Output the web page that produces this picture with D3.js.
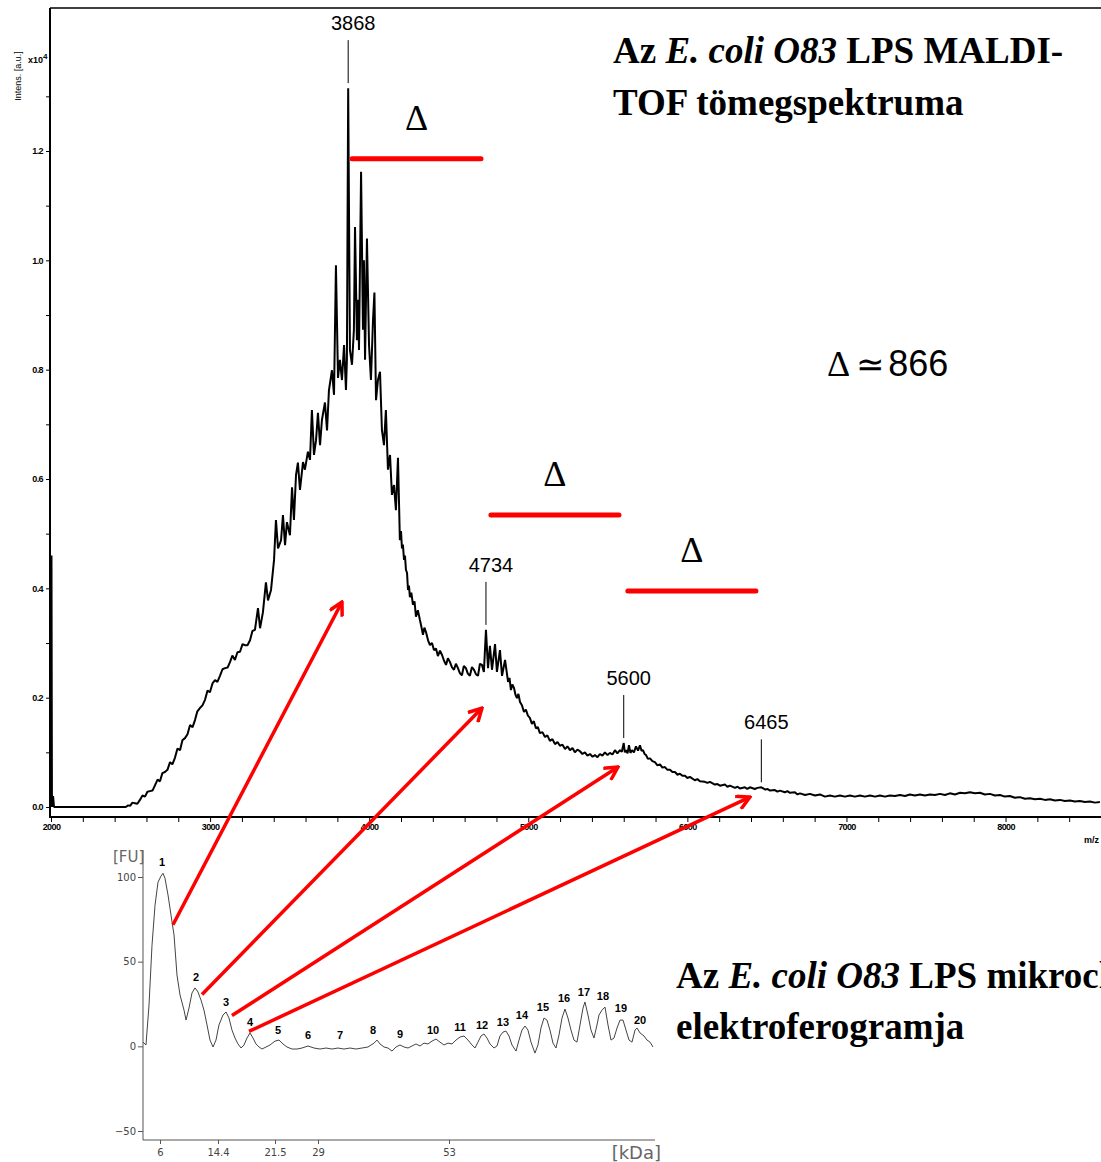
<!DOCTYPE html>
<html>
<head>
<meta charset="utf-8">
<script src="https://cdn.jsdelivr.net/npm/d3@7"></script>
<style>
  body { margin: 0; background: #fff; }
  svg text { font-family: "Liberation Sans", Arial, sans-serif; }
</style>
</head>
<body>
<div id="chart"></div>
<script>
// MALDI-TOF spectrum: m/z and intensity (x10^4 a.u.)
var specMz = [2000, 2003, 2006, 2013, 2019, 2470,
  2485, 2497, 2512, 2528, 2543, 2559, 2575, 2591, 2606, 2622, 2638, 2654, 2670, 2685,
  2700, 2716, 2732, 2748, 2763, 2779, 2795, 2811, 2826, 2842, 2858, 2874, 2890, 2905,
  2920, 2936, 2952, 2968, 2984, 2999, 3015, 3031, 3046, 3062, 3078, 3094, 3110, 3125,
  3140, 3156, 3172, 3188, 3204, 3219, 3235, 3251, 3266, 3282, 3301, 3314,
  3332, 3351, 3364, 3383, 3402, 3414, 3427, 3446, 3458, 3471, 3483, 3502, 3515, 3527,
  3540, 3552, 3565, 3584, 3596, 3615, 3628, 3640, 3653, 3666, 3678, 3691, 3703, 3722,
  3735, 3747, 3766, 3779, 3791, 3804, 3816, 3829, 3842, 3854, 3860, 3868, 3879, 3892,
  3904, 3911, 3923, 3930, 3936, 3949, 3961, 3967, 3974, 3986, 3999, 4011, 4024, 4033,
  4043, 4055, 4068, 4080, 4093, 4105, 4118, 4131, 4143, 4156, 4168, 4181, 4193, 4200,
  4206, 4212, 4219, 4225, 4231, 4238, 4244, 4250, 4256, 4265, 4275, 4285, 4294, 4306,
  4319, 4328, 4338, 4347, 4357, 4370, 4382, 4395, 4407, 4420, 4432, 4445, 4458, 4470,
  4483, 4495, 4508, 4520, 4533, 4545, 4558, 4570, 4583, 4595, 4608, 4620, 4633, 4646,
  4659, 4671, 4684, 4696, 4709, 4721, 4734, 4747, 4759, 4772,
  4791, 4803, 4822, 4835, 4854, 4873, 4882, 4891, 4900, 4910, 4920, 4929, 4938, 4948,
  4960, 4973, 4985, 4998, 5010, 5023, 5035, 5048, 5060, 5073, 5089, 5105, 5120, 5136,
  5152, 5168, 5184, 5199, 5215, 5231, 5246, 5262, 5278, 5293, 5309, 5325, 5340, 5356,
  5372, 5388, 5404, 5419, 5435, 5450, 5466, 5482, 5498, 5513, 5529, 5545, 5560, 5576,
  5588, 5600, 5607, 5614, 5624, 5633, 5642, 5652, 5664, 5677, 5690, 5702, 5712, 5721,
  5731, 5740, 5752, 5765, 5780, 5796, 5812, 5828, 5843, 5859, 5875, 5891, 5906, 5922,
  5938, 5953, 5969, 5985, 6000, 6016, 6047, 6063, 6079, 6110, 6126, 6142, 6173, 6189,
  6205, 6236, 6252, 6268, 6299, 6315, 6330, 6362, 6377, 6393, 6424, 6440, 6465, 6490,
  6505, 6519, 6550, 6566, 6582, 6613, 6629, 6645, 6676, 6692, 6708, 6740, 6770, 6802,
  6833, 6865, 6896, 6927, 6959, 6990, 7022, 7053, 7085, 7116, 7148, 7180, 7210, 7242,
  7273, 7305, 7336, 7368, 7399, 7430, 7462, 7493, 7525, 7556, 7588, 7619, 7650, 7682,
  7714, 7745, 7776, 7808, 7839, 7870, 7902, 7933, 7965, 7996, 8027, 8059, 8090, 8122,
  8153, 8185, 8216, 8248, 8279, 8310, 8342, 8373, 8405, 8436, 8467, 8499, 8530, 8562,
  8593];
var specInt = [0, 0.46, 0, 0.02, 0, 0,
  0.003, 0.002, 0.008, 0.007, 0.006, 0.013, 0.021, 0.019, 0.028, 0.029, 0.030, 0.040, 0.050, 0.047,
  0.062, 0.064, 0.068, 0.082, 0.078, 0.090, 0.107, 0.104, 0.122, 0.126, 0.133, 0.150, 0.146, 0.159,
  0.175, 0.181, 0.186, 0.196, 0.213, 0.210, 0.226, 0.232, 0.229, 0.240, 0.252, 0.254, 0.255, 0.265,
  0.277, 0.269, 0.283, 0.284, 0.298, 0.296, 0.296, 0.305, 0.322, 0.324, 0.364, 0.327,
  0.356, 0.411, 0.378, 0.397, 0.452, 0.525, 0.473, 0.488, 0.534, 0.479, 0.521, 0.497, 0.585, 0.525,
  0.607, 0.630, 0.580, 0.631, 0.617, 0.650, 0.635, 0.726, 0.644, 0.671, 0.721, 0.662, 0.708, 0.740,
  0.689, 0.762, 0.799, 0.754, 0.991, 0.785, 0.818, 0.781, 0.845, 0.763, 0.818, 1.315, 0.836, 0.809,
  0.873, 1.061, 0.854, 0.928, 0.836, 1.162, 0.873, 1.000, 0.818, 1.040, 0.845, 0.781, 0.890, 0.941,
  0.744, 0.781, 0.796, 0.690, 0.662, 0.726, 0.617, 0.644, 0.571, 0.589, 0.543, 0.639, 0.488, 0.505,
  0.473, 0.480, 0.452, 0.460, 0.434, 0.428, 0.397, 0.405, 0.384, 0.392, 0.370, 0.376, 0.348, 0.360,
  0.342, 0.330, 0.315, 0.328, 0.320, 0.305, 0.296, 0.300, 0.287, 0.290, 0.276, 0.286, 0.278, 0.268,
  0.260, 0.272, 0.265, 0.256, 0.251, 0.262, 0.254, 0.245, 0.241, 0.258, 0.254, 0.244, 0.240, 0.256,
  0.251, 0.243, 0.240, 0.262, 0.260, 0.247, 0.324, 0.254, 0.295, 0.251,
  0.298, 0.247, 0.287, 0.240, 0.269, 0.229, 0.236, 0.214, 0.224, 0.218, 0.205, 0.199, 0.207, 0.192,
  0.186, 0.174, 0.178, 0.167, 0.163, 0.152, 0.157, 0.144, 0.146, 0.135, 0.137, 0.128, 0.131, 0.121,
  0.124, 0.115, 0.119, 0.112, 0.114, 0.106, 0.111, 0.104, 0.108, 0.100, 0.105, 0.102, 0.097, 0.100,
  0.094, 0.097, 0.092, 0.095, 0.091, 0.097, 0.094, 0.100, 0.095, 0.099, 0.096, 0.104, 0.098, 0.104,
  0.101, 0.117, 0.100, 0.104, 0.098, 0.113, 0.099, 0.104, 0.100, 0.111, 0.103, 0.113, 0.103, 0.104,
  0.097, 0.095, 0.088, 0.089, 0.084, 0.082, 0.076, 0.078, 0.072, 0.073, 0.068, 0.068, 0.064, 0.064,
  0.059, 0.061, 0.057, 0.057, 0.053, 0.055, 0.049, 0.051, 0.047, 0.046, 0.044, 0.046, 0.041, 0.042,
  0.039, 0.041, 0.037, 0.039, 0.035, 0.037, 0.034, 0.036, 0.033, 0.036, 0.033, 0.035, 0.036, 0.032,
  0.033, 0.030, 0.031, 0.028, 0.030, 0.027, 0.029, 0.026, 0.027, 0.023, 0.025, 0.022, 0.024, 0.021,
  0.023, 0.019, 0.021, 0.019, 0.021, 0.019, 0.021, 0.019, 0.021, 0.019, 0.021, 0.019, 0.021, 0.019,
  0.021, 0.020, 0.022, 0.020, 0.023, 0.021, 0.023, 0.021, 0.023, 0.022, 0.024, 0.022, 0.025, 0.023,
  0.026, 0.025, 0.027, 0.025, 0.026, 0.023, 0.024, 0.021, 0.022, 0.019, 0.020, 0.017, 0.018, 0.015,
  0.016, 0.014, 0.015, 0.013, 0.014, 0.012, 0.013, 0.011, 0.012, 0.010, 0.011, 0.009, 0.010, 0.008,
  0.009];

var peakLabels = [3868, 4734, 5600, 6465];

// delta bars (m/z from, m/z to, intensity level)
var deltaFrom = [3892, 4765, 5626];
var deltaTo = [4703, 5570, 6431];
var deltaLevel = [1.186, 0.534, 0.395];

var xTicksMz = d3.range(2000, 8601, 200);
var yTicksInt = d3.range(0, 1.31, 0.1);

// microchip electropherogram: kDa and fluorescence units
var ladderKDa = [6, 14.4, 21.5, 29, 53];
var fuTicks = [100, 50, 0, -50];
var elKDa = [3.54, 3.97, 4.41, 4.84, 5.28, 5.71, 6.14, 6.43, 6.72, 7.16, 7.59, 8.03, 8.46, 8.90,
  9.48, 9.77, 10.20, 10.63, 11.07, 11.50, 11.94, 12.37, 12.81, 13.24, 13.68, 14.11, 14.52, 15.02,
  15.40, 15.77, 16.14, 16.52, 16.89, 17.27, 17.64, 18.01, 18.39, 18.76, 19.13, 19.51, 19.88, 20.38,
  20.88, 21.50, 22.20, 22.90, 23.59, 24.47, 25.34, 26.21, 27.26, 28.30, 29.37, 30.47, 31.57, 32.66,
  33.76, 34.86, 35.96, 37.06, 38.16, 39.26, 39.81, 40.36, 41.09, 41.83, 42.56, 43.29, 44.02, 44.76,
  45.49, 46.22, 46.96, 47.69, 48.42, 49.15, 49.89, 50.62, 51.35, 52.08, 52.82, 53.55, 54.28, 55.02,
  55.75, 56.48, 57.22, 57.76, 58.31, 58.86, 59.41, 59.96, 60.51, 61.24, 61.79, 62.34, 62.89, 63.44,
  63.99, 64.54, 65.28, 65.83, 66.37, 66.92, 67.47, 68.02, 68.75, 69.30, 69.85, 70.40, 70.95, 71.50,
  72.05, 72.60, 73.15, 73.70, 74.25, 74.80, 75.35, 75.90, 76.45, 77.00, 77.55, 77.91, 78.46, 79.01,
  79.56, 80.11, 80.48, 81.03, 81.58, 82.13, 82.68, 83.23, 83.78, 84.33, 84.88, 85.43, 85.98, 86.53,
  87.08, 87.45, 88.00, 88.73, 89.28, 89.83, 90.38];
var elFU = [2.5, 0.8, 24.4, 59.6, 83.3, 96.9, 100.5, 102.2, 99.3, 89.4, 77.6, 65.8, 42.1, 30.3,
  21.4, 15.5, 22.6, 31.5, 34.5, 32.1, 27.3, 21.4, 12.6, 3.7, -0.4, 3.7, 12.6, 18.5,
  20.3, 16.7, 9.6, 4.9, 1.4, -1.0, 0.8, 4.9, 7.9, 4.9, 1.4, -0.4, -1.6, -0.4,
  0.8, 3.1, 3.7, 1.4, -0.4, -1.6, -1.6, -1.0, 0.2, -1.0, -1.6, -1.0, -1.6, -1.0,
  -1.6, -1.0, -1.6, -1.0, -0.4, 1.9, 3.7, 1.4, -0.4, -1.0, -2.8, -0.4, 0.8, -0.4,
  -1.0, 0.2, 1.4, 0.2, 1.9, 1.4, 3.1, 4.3, 2.5, 0.8, 1.9, 1.4, 3.7, 5.5,
  6.1, 3.7, 0.8, -1.0, 2.5, 6.1, 7.3, 4.9, 1.4, -1.0, 0.2, 6.1, 8.4, 9.0,
  6.1, 0.8, -2.8, 3.7, 9.6, 12.0, 9.6, 2.5, -4.0, 0.8, 10.8, 16.7, 15.5, 9.6,
  1.9, -1.0, 6.7, 16.7, 22.0, 16.7, 9.6, 3.7, 2.5, 12.6, 22.6, 26.2, 18.5, 9.6,
  4.9, 12.6, 18.5, 21.4, 23.2, 12.6, 3.7, 4.9, 10.8, 15.5, 15.5, 9.6, 3.7, 2.5,
  9.6, 10.8, 7.9, 6.1, 3.7, 2.5, -0.4];

// numbered peak labels (label centre in kDa / FU)
var elPeakNum = d3.range(1, 21);
var elPeakKDa = [6.29, 11.21, 15.40, 18.39, 22.02, 27.26, 33.03, 39.08, 44.02, 50.07,
  55.02, 59.05, 62.89, 66.37, 70.22, 74.07, 77.73, 81.21, 84.51, 88.00];
var elPeakFU = [108.9, 40.9, 26.2, 14.4, 9.6, 6.7, 6.7, 9.6, 7.3, 9.6,
  11.4, 12.6, 14.4, 18.5, 23.2, 28.5, 32.1, 29.7, 22.6, 15.5];

// arrows: from electropherogram peak (kDa, FU) to spectrum (m/z, intensity)
var arrowFromKDa = [7.88, 12.08, 16.14, 18.26];
var arrowFromFU = [71.8, 30.6, 18.2, 8.8];
var arrowToMz = [3829, 4709, 5564, 6393];
var arrowToInt = [0.375, 0.181, 0.073, 0.018];

var W = 1101, H = 1162;
var svg = d3.select("#chart").append("svg")
    .attr("width", W).attr("height", H);

svg.append("defs").append("marker")
    .attr("id", "head")
    .attr("viewBox", "0 0 16 16")
    .attr("refX", 14).attr("refY", 8)
    .attr("markerWidth", 16).attr("markerHeight", 16)
    .attr("markerUnits", "userSpaceOnUse")
    .attr("orient", "auto")
  .append("path")
    .attr("d", "M1,1 L14,8 L1,15")
    .attr("fill", "none")
    .attr("stroke", "red")
    .attr("stroke-width", 3.5);

// ---------- spectrum ----------
var plotLeft = 50, plotTop = 8, axisY = 817;
var x = d3.scaleLinear().domain([2000, 8600]).range([51, 1101]);
var y = d3.scaleLinear().domain([0, 1.2]).range([807, 151]);

// frame
svg.append("line").attr("x1", plotLeft).attr("x2", W).attr("y1", plotTop).attr("y2", plotTop)
    .attr("stroke", "#000").attr("stroke-width", 1.5);
svg.append("line").attr("x1", plotLeft).attr("x2", plotLeft).attr("y1", plotTop).attr("y2", axisY)
    .attr("stroke", "#000").attr("stroke-width", 2);
svg.append("line").attr("x1", plotLeft - 1).attr("x2", W).attr("y1", axisY).attr("y2", axisY)
    .attr("stroke", "#000").attr("stroke-width", 2);

var xAxis = svg.append("g")
    .attr("transform", "translate(0," + axisY + ")")
    .call(d3.axisBottom(x).tickValues(xTicksMz).tickSize(5).tickPadding(2)
      .tickFormat(function(d) { return d % 1000 === 0 ? d : ""; }));
xAxis.select(".domain").remove();
xAxis.selectAll("text").attr("font-size", 9).attr("font-weight", "bold")
    .attr("letter-spacing", -0.6).style("font-family", "Liberation Sans, Arial");

var yAxis = svg.append("g")
    .attr("transform", "translate(" + plotLeft + ",0)")
    .call(d3.axisLeft(y).tickValues(yTicksInt).tickSize(4).tickPadding(3)
      .tickFormat(function(d, i) { return i % 2 === 0 ? d3.format(".1f")(d) : ""; }));
yAxis.select(".domain").remove();
yAxis.selectAll("text").attr("font-size", 9).attr("font-weight", "bold")
    .attr("letter-spacing", -0.6).style("font-family", "Liberation Sans, Arial");

svg.append("text")
    .attr("x", 28).attr("y", 63)
    .attr("font-size", 9).attr("font-weight", "bold")
    .html('x10<tspan dy="-4" font-size="8">4</tspan>');
svg.append("text")
    .attr("transform", "translate(21,76) rotate(-90)")
    .attr("text-anchor", "middle")
    .attr("font-size", 9)
    .text("Intens. [a.u.]");
svg.append("text")
    .attr("x", 1099).attr("y", 843)
    .attr("text-anchor", "end")
    .attr("font-size", 9).attr("font-weight", "bold")
    .text("m/z");

var specData = specMz.map(function(m, i) { return [m, specInt[i]]; });
svg.append("path")
    .datum(specData)
    .attr("fill", "none")
    .attr("stroke", "#000")
    .attr("stroke-width", 2)
    .attr("stroke-linejoin", "bevel")
    .attr("d", d3.line()
      .x(function(d) { return x(d[0]); })
      .y(function(d) { return y(d[1]); }));

// peak labels
peakLabels.forEach(function(m) {
  var near = specData.filter(function(d) { return Math.abs(d[0] - m) <= 12; });
  var top = d3.max(near, function(d) { return d[1]; });
  var py = y(top) - 5;
  svg.append("line")
      .attr("x1", x(m)).attr("x2", x(m))
      .attr("y1", py).attr("y2", py - 43)
      .attr("stroke", "#000").attr("stroke-width", 1);
  svg.append("text")
      .attr("x", x(m) + 5).attr("y", py - 53)
      .attr("text-anchor", "middle")
      .attr("font-size", 20)
      .text(m);
});

// delta bars
deltaFrom.forEach(function(m, i) {
  svg.append("line")
      .attr("x1", x(m)).attr("x2", x(deltaTo[i]))
      .attr("y1", y(deltaLevel[i])).attr("y2", y(deltaLevel[i]))
      .attr("stroke", "red").attr("stroke-width", 5).attr("stroke-linecap", "round");
  svg.append("text")
      .attr("x", (x(m) + x(deltaTo[i])) / 2).attr("y", y(deltaLevel[i]) - 29)
      .attr("text-anchor", "middle")
      .attr("font-size", 36)
      .style("font-family", "Liberation Serif, Times New Roman, serif")
      .text("Δ");
});

var dt = svg.append("text").attr("x", 827).attr("y", 376).attr("font-size", 36);
dt.append("tspan").style("font-family", "Liberation Serif, serif").text("Δ");
dt.append("tspan").attr("dx", 6).attr("font-size", 34).text("≃");
dt.append("tspan").attr("dx", 4).text("866");

// titles
function title(xp, yp, parts) {
  var t = svg.append("text").attr("x", xp).attr("y", yp)
      .attr("font-size", 37).attr("font-weight", "bold")
      .style("font-family", "Liberation Serif, Times New Roman, serif");
  parts.forEach(function(p) {
    t.append("tspan").attr("font-style", p[1] ? "italic" : "normal").text(p[0]);
  });
}
title(613, 63, [["Az ", false], ["E. coli O83", true], [" LPS MALDI-", false]]);
title(613, 115, [["TOF tömegspektruma", false]]);
title(676, 988, [["Az ", false], ["E. coli O83", true], [" LPS mikrochip", false]]);
title(676, 1039, [["elektroferogramja", false]]);

// ---------- electropherogram ----------
var ex = d3.scaleLinear().domain(ladderKDa).range([160, 218, 275, 318, 449]);
var ey = d3.scaleLinear().domain([-50, 100]).range([1131, 877]);
var elLeft = 143, elBottom = 1140, elRight = 655;
var grey = "#555";

svg.append("line").attr("x1", elLeft).attr("x2", elLeft).attr("y1", 850).attr("y2", elBottom)
    .attr("stroke", grey).attr("stroke-width", 1);
svg.append("line").attr("x1", elLeft).attr("x2", elRight).attr("y1", elBottom).attr("y2", elBottom)
    .attr("stroke", grey).attr("stroke-width", 1);

var ea = svg.append("g").attr("transform", "translate(" + elLeft + ",0)")
    .call(d3.axisLeft(ey).tickValues(fuTicks).tickSize(5).tickPadding(2));
ea.select(".domain").remove();
ea.selectAll("line").attr("stroke", grey);
ea.selectAll("text").attr("font-size", 10).attr("fill", "#444")
    .style("font-family", "DejaVu Sans, Verdana, sans-serif");

var eb = svg.append("g").attr("transform", "translate(0," + elBottom + ")")
    .call(d3.axisBottom(ex).tickValues(ladderKDa).tickSize(4).tickPadding(5)
      .tickFormat(function(d) { return d; }));
eb.select(".domain").remove();
eb.selectAll("line").attr("stroke", grey);
eb.selectAll("text").attr("font-size", 10).attr("fill", "#444")
    .style("font-family", "DejaVu Sans, Verdana, sans-serif");

svg.append("text").attr("x", 113).attr("y", 862).attr("font-size", 15).attr("fill", "#666")
    .style("font-family", "DejaVu Sans, Verdana, sans-serif").text("[FU]");
svg.append("text").attr("x", 661).attr("y", 1159).attr("text-anchor", "end")
    .attr("font-size", 18).attr("fill", "#666")
    .style("font-family", "DejaVu Sans, Verdana, sans-serif").text("[kDa]");

svg.append("path")
    .datum(elKDa.map(function(k, i) { return [k, elFU[i]]; }))
    .attr("fill", "none")
    .attr("stroke", "#444")
    .attr("stroke-width", 1)
    .attr("d", d3.line()
      .x(function(d) { return ex(d[0]); })
      .y(function(d) { return ey(d[1]); }));

svg.append("g").selectAll("text")
    .data(elPeakNum)
    .enter().append("text")
      .attr("x", function(d, i) { return ex(elPeakKDa[i]); })
      .attr("y", function(d, i) { return ey(elPeakFU[i]); })
      .attr("dy", "0.35em")
      .attr("text-anchor", "middle")
      .attr("font-size", 11).attr("font-weight", "bold")
      .text(function(d) { return d; });

// red arrows linking the two panels
arrowToMz.forEach(function(m, i) {
  svg.append("line")
      .attr("x1", ex(arrowFromKDa[i])).attr("y1", ey(arrowFromFU[i]))
      .attr("x2", x(m)).attr("y2", y(arrowToInt[i]))
      .attr("stroke", "red").attr("stroke-width", 3.5)
      .attr("marker-end", "url(#head)");
});
</script>
</body>
</html>
